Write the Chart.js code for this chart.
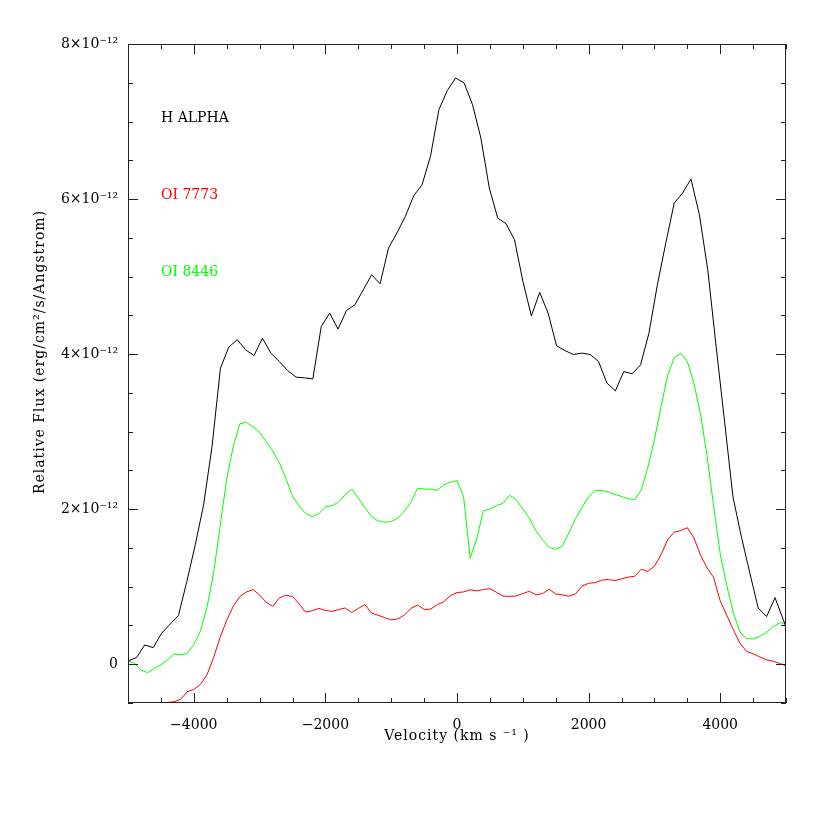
<!DOCTYPE html>
<html>
<head>
<meta charset="utf-8">
<script src="https://cdn.jsdelivr.net/npm/chart.js@4.4.1/dist/chart.umd.min.js"></script>
<style>
  html, body { margin: 0; padding: 0; background: #fff; }
  #wrap { width: 830px; height: 830px; }
</style>
</head>
<body>
<div id="wrap"><canvas id="flux"></canvas></div>
<script>
// H alpha profile, velocity in km/s, flux in units of 1e-12 erg/cm2/s/Angstrom
const velHalpha = [-5000, -4872, -4745, -4617, -4489, -4362, -4234, -4106, -3978, -3851,
  -3723, -3595, -3468, -3340, -3212, -3085, -2957, -2829, -2701, -2574,
  -2446, -2318, -2191, -2063, -1935, -1808, -1680, -1552, -1424, -1297,
  -1169, -1041, -914, -786, -658, -531, -403, -275, -147, -20,
  108, 236, 363, 491, 619, 746, 874, 1002, 1130, 1257,
  1385, 1513, 1640, 1768, 1896, 2024, 2151, 2279, 2407, 2534,
  2662, 2790, 2917, 3045, 3173, 3301, 3428, 3556, 3684, 3811,
  3939, 4067, 4194, 4322, 4450, 4577, 4705, 4833, 4960, 5088]
const fluxHalpha = [0.043, 0.085, 0.249, 0.214, 0.400, 0.516, 0.627, 1.066, 1.539, 2.055,
  2.808, 3.819, 4.090, 4.185, 4.055, 3.982, 4.206, 4.013, 3.905, 3.788,
  3.703, 3.694, 3.681, 4.356, 4.529, 4.323, 4.563, 4.636, 4.830, 5.023,
  4.907, 5.368, 5.561, 5.775, 6.043, 6.185, 6.550, 7.152, 7.401, 7.561,
  7.497, 7.217, 6.787, 6.142, 5.755, 5.681, 5.475, 4.937, 4.494, 4.795,
  4.529, 4.107, 4.046, 3.995, 4.013, 3.995, 3.905, 3.626, 3.526, 3.775,
  3.746, 3.862, 4.271, 4.894, 5.432, 5.948, 6.077, 6.258, 5.797, 5.088,
  4.094, 3.126, 2.159, 1.643, 1.178, 0.726, 0.614, 0.859, 0.572, 0.275]

// OI lines share a 100 km/s grid
const velOI = [-5000, -4900, -4800, -4700, -4600, -4500, -4400, -4300, -4200, -4100,
  -4000, -3900, -3800, -3700, -3600, -3500, -3400, -3300, -3200, -3100,
  -3000, -2900, -2800, -2700, -2600, -2500, -2400, -2300, -2200, -2100,
  -2000, -1900, -1800, -1700, -1600, -1500, -1400, -1300, -1200, -1100,
  -1000, -900, -800, -700, -600, -500, -400, -300, -200, -100,
  0, 100, 200, 300, 400, 500, 600, 700, 800, 900,
  1000, 1100, 1200, 1300, 1400, 1500, 1600, 1700, 1800, 1900,
  2000, 2100, 2200, 2300, 2400, 2500, 2600, 2700, 2800, 2900,
  3000, 3100, 3200, 3300, 3400, 3500, 3600, 3700, 3800, 3900,
  4000, 4100, 4200, 4300, 4400, 4500, 4600, 4700, 4800, 4900, 5000]
const fluxOI7773 = [-0.62, -0.60, -0.58, -0.56, -0.54, -0.52, -0.492, -0.484, -0.453, -0.355,
  -0.325, -0.261, -0.138, 0.085, 0.346, 0.568, 0.748, 0.874, 0.932, 0.963,
  0.894, 0.799, 0.746, 0.855, 0.889, 0.874, 0.778, 0.672, 0.690, 0.720,
  0.694, 0.683, 0.705, 0.726, 0.667, 0.719, 0.770, 0.661, 0.632, 0.601,
  0.572, 0.585, 0.634, 0.720, 0.765, 0.707, 0.711, 0.768, 0.806, 0.884,
  0.924, 0.933, 0.961, 0.946, 0.964, 0.975, 0.928, 0.879, 0.874, 0.881,
  0.912, 0.941, 0.894, 0.911, 0.968, 0.905, 0.895, 0.877, 0.907, 1.006,
  1.045, 1.052, 1.085, 1.093, 1.079, 1.101, 1.123, 1.134, 1.225, 1.197,
  1.265, 1.410, 1.604, 1.703, 1.724, 1.761, 1.630, 1.410, 1.243, 1.120,
  0.817, 0.631, 0.445, 0.272, 0.165, 0.135, 0.095, 0.059, 0.039, 0.012, -0.022]
const fluxOI8446 = [0.043, 0.010, -0.074, -0.108, -0.055, -0.009, 0.055, 0.133, 0.120, 0.139,
  0.255, 0.430, 0.733, 1.172, 1.778, 2.391, 2.810, 3.101, 3.120, 3.062,
  2.991, 2.868, 2.750, 2.597, 2.397, 2.165, 2.043, 1.943, 1.906, 1.939,
  2.030, 2.045, 2.090, 2.187, 2.259, 2.142, 2.023, 1.905, 1.849, 1.832,
  1.841, 1.883, 1.975, 2.088, 2.271, 2.259, 2.258, 2.244, 2.316, 2.348,
  2.369, 2.159, 1.368, 1.617, 1.978, 2.004, 2.045, 2.077, 2.179, 2.120,
  2.004, 1.883, 1.720, 1.604, 1.507, 1.484, 1.520, 1.694, 1.875, 2.022,
  2.160, 2.239, 2.243, 2.219, 2.192, 2.164, 2.133, 2.125, 2.249, 2.539,
  2.894, 3.320, 3.720, 3.952, 4.010, 3.905, 3.622, 3.230, 2.688, 2.043,
  1.423, 1.017, 0.662, 0.417, 0.332, 0.326, 0.361, 0.408, 0.481, 0.533, 0.529]

const seriesNames = ['H ALPHA', 'OI 7773', 'OI 8446']
const seriesColors = ['#000000', '#ff0000', '#00ff00']

const xTicks = [-4000, -2000, 0, 2000, 4000]
const xTickLabels = ['\u22124000', '\u22122000', '0', '2000', '4000']
const yTicks = [0, 2, 4, 6, 8]
const yTickLabels = ['0', '2\u00d710\u207b\u00b9\u00b2', '4\u00d710\u207b\u00b9\u00b2', '6\u00d710\u207b\u00b9\u00b2', '8\u00d710\u207b\u00b9\u00b2']

const FONT = "'DejaVu Serif', serif"

const toPoints = (xs, ys) => xs.map((v, i) => ({ x: v, y: ys[i] }))

// frame with inward ticks on four sides, labels and axis titles
const frameTicks = {
  id: 'frameTicks',
  afterDraw(chart) {
    const { ctx, chartArea: a, scales } = chart
    const sx = scales.x, sy = scales.y
    ctx.save()
    ctx.strokeStyle = '#222'
    ctx.lineWidth = 1
    ctx.strokeRect(Math.round(a.left) + 0.5, Math.round(a.top) + 0.5,
      Math.round(a.right - a.left) - 1, Math.round(a.bottom - a.top) - 1)
    ctx.beginPath()
    for (let v = -5000; v <= 5000; v += 500) {
      const px = Math.round(sx.getPixelForValue(v)) + 0.5
      const len = v % 2000 === 0 ? 10 : 5
      ctx.moveTo(px, a.bottom); ctx.lineTo(px, a.bottom - len)
      ctx.moveTo(px, a.top); ctx.lineTo(px, a.top + len)
    }
    for (let v = -0.5; v <= 8; v += 0.5) {
      const py = Math.round(sy.getPixelForValue(v)) + 0.5
      const len = v % 2 === 0 ? 10 : 5
      ctx.moveTo(a.left, py); ctx.lineTo(a.left + len, py)
      ctx.moveTo(a.right, py); ctx.lineTo(a.right - len, py)
    }
    ctx.stroke()

    ctx.font = '14px ' + FONT
    ctx.textBaseline = 'middle'
    ctx.textAlign = 'left'
    seriesNames.forEach((name, i) => {
      ctx.fillStyle = seriesColors[i]
      ctx.fillText(name, 161, 118 + i * 77)
    })

    ctx.fillStyle = '#000'
    ctx.textAlign = 'center'
    ctx.letterSpacing = '1px'
    ctx.fillText('Velocity (km s \u207b\u00b9 )', (a.left + a.right) / 2, 736)
    ctx.translate(40, 352)
    ctx.rotate(-Math.PI / 2)
    ctx.fillText('Relative Flux (erg/cm\u00b2/s/Angstrom)', 0, 0)
    ctx.restore()
  }
}

new Chart(document.getElementById('flux'), {
  type: 'line',
  data: {
    datasets: [
      { label: seriesNames[0], data: toPoints(velHalpha, fluxHalpha), borderColor: seriesColors[0] },
      { label: seriesNames[1], data: toPoints(velOI, fluxOI7773), borderColor: seriesColors[1] },
      { label: seriesNames[2], data: toPoints(velOI, fluxOI8446), borderColor: seriesColors[2] }
    ]
  },
  options: {
    responsive: true,
    maintainAspectRatio: false,
    animation: false,
    datasets: { line: { borderWidth: 1, pointRadius: 0, tension: 0, fill: false } },
    layout: { padding: { left: 0, top: 44, right: 44, bottom: 0 } },
    plugins: { legend: { display: false }, tooltip: { enabled: false } },
    scales: {
      x: {
        type: 'linear', min: -5000, max: 5000,
        grid: { display: false }, border: { display: false },
        afterBuildTicks: s => { s.ticks = xTicks.map(v => ({ value: v })) },
        afterFit: s => { s.height = 127 },
        ticks: { color: '#000', padding: 6, maxRotation: 0, autoSkip: false,
          font: { family: FONT, size: 14 }, callback: (v, i) => xTickLabels[i] }
      },
      y: {
        type: 'linear', min: -0.5, max: 8,
        grid: { display: false }, border: { display: false },
        afterBuildTicks: s => { s.ticks = yTicks.map(v => ({ value: v })) },
        afterFit: s => { s.width = 128 },
        ticks: { color: '#000', padding: 2, autoSkip: false,
          font: { family: FONT, size: 14 }, callback: (v, i) => yTickLabels[i] }
      }
    }
  },
  plugins: [frameTicks]
})
</script>
</body>
</html>
